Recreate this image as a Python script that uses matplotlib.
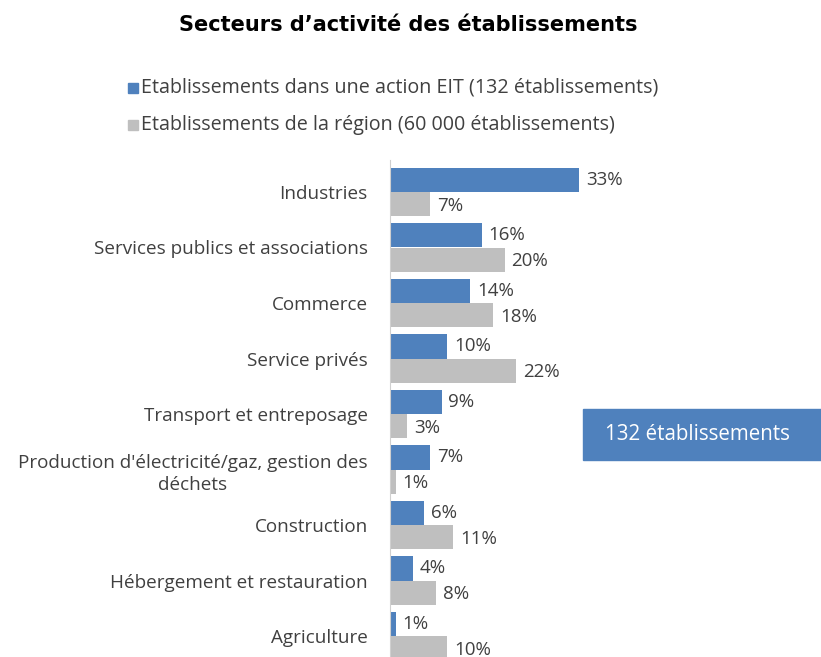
import numpy as np
import matplotlib.pyplot as plt
from matplotlib.patches import Rectangle

secteurs = ["Industries", "Services publics et associations", "Commerce",
            "Service privés", "Transport et entreposage",
            "Production d'électricité/gaz, gestion des\ndéchets",
            "Construction", "Hébergement et restauration", "Agriculture"]
eit = [33, 16, 14, 10, 9, 7, 6, 4, 1]
region = [7, 20, 18, 22, 3, 1, 11, 8, 10]

blue = "#4F81BD"
grey = "#BFBFBF"
txt = "#404040"
plt.rcParams['font.family'] = ['Open Sans', 'DejaVu Sans']

fig = plt.figure(figsize=(8.21, 6.57), dpi=100)
ax = fig.add_axes([390/821, 0, 431/821, (657-160)/657])

y = np.arange(len(secteurs))
h = 0.44
ax.barh(y - h/2, eit, height=h, color=blue)
ax.barh(y + h/2, region, height=h, color=grey)

for i in range(len(secteurs)):
  ax.text(eit[i] + 1.2, y[i] - h/2, f"{eit[i]}%", va="center", ha="left",
          fontsize=13.5, color=txt)
  ax.text(region[i] + 1.2, y[i] + h/2 + 0.03, f"{region[i]}%", va="center", ha="left",
          fontsize=13.5, color=txt)

ax.set_xlim(0, 431/5.73)
ax.set_ylim((657-192)/55.5, (160-192)/55.5)
ax.set_yticks(y)
ax.set_yticklabels(secteurs, fontsize=13.6, color=txt, ha="right", linespacing=1.35)
for lbl in ax.get_yticklabels():
  lbl.set_multialignment("center")
ax.tick_params(axis="y", length=0, pad=16)
ax.set_xticks([])
for s in ["top", "right", "bottom"]:
  ax.spines[s].set_visible(False)
ax.spines["left"].set_color("#D0D0D0")

fig.text(408/821, 1 - 25/657, "Secteurs d\u2019activité des établissements",
         ha="center", va="center", fontsize=15, fontweight="bold",
         family="DejaVu Sans", color="black")

legend_rows = [("Etablissements dans une action EIT (132 établissements)", blue, 88),
               ("Etablissements de la région (60 000 établissements)", grey, 125)]
for label, col, py in legend_rows:
  fig.patches.append(Rectangle((128/821, 1 - (py+5)/657), 10/821, 10/657,
                               transform=fig.transFigure, color=col))
  fig.text(141/821, 1 - py/657, label, ha="left", va="center",
           fontsize=14.2, color=txt)

fig.patches.append(Rectangle((583/821, 1 - 460/657), 240/821, 51/657,
                             transform=fig.transFigure, color=blue))
fig.text(697/821, 1 - 435/657, "132 établissements", ha="center", va="center",
         fontsize=14.8, color="white")

plt.savefig("out.png", dpi=100)
